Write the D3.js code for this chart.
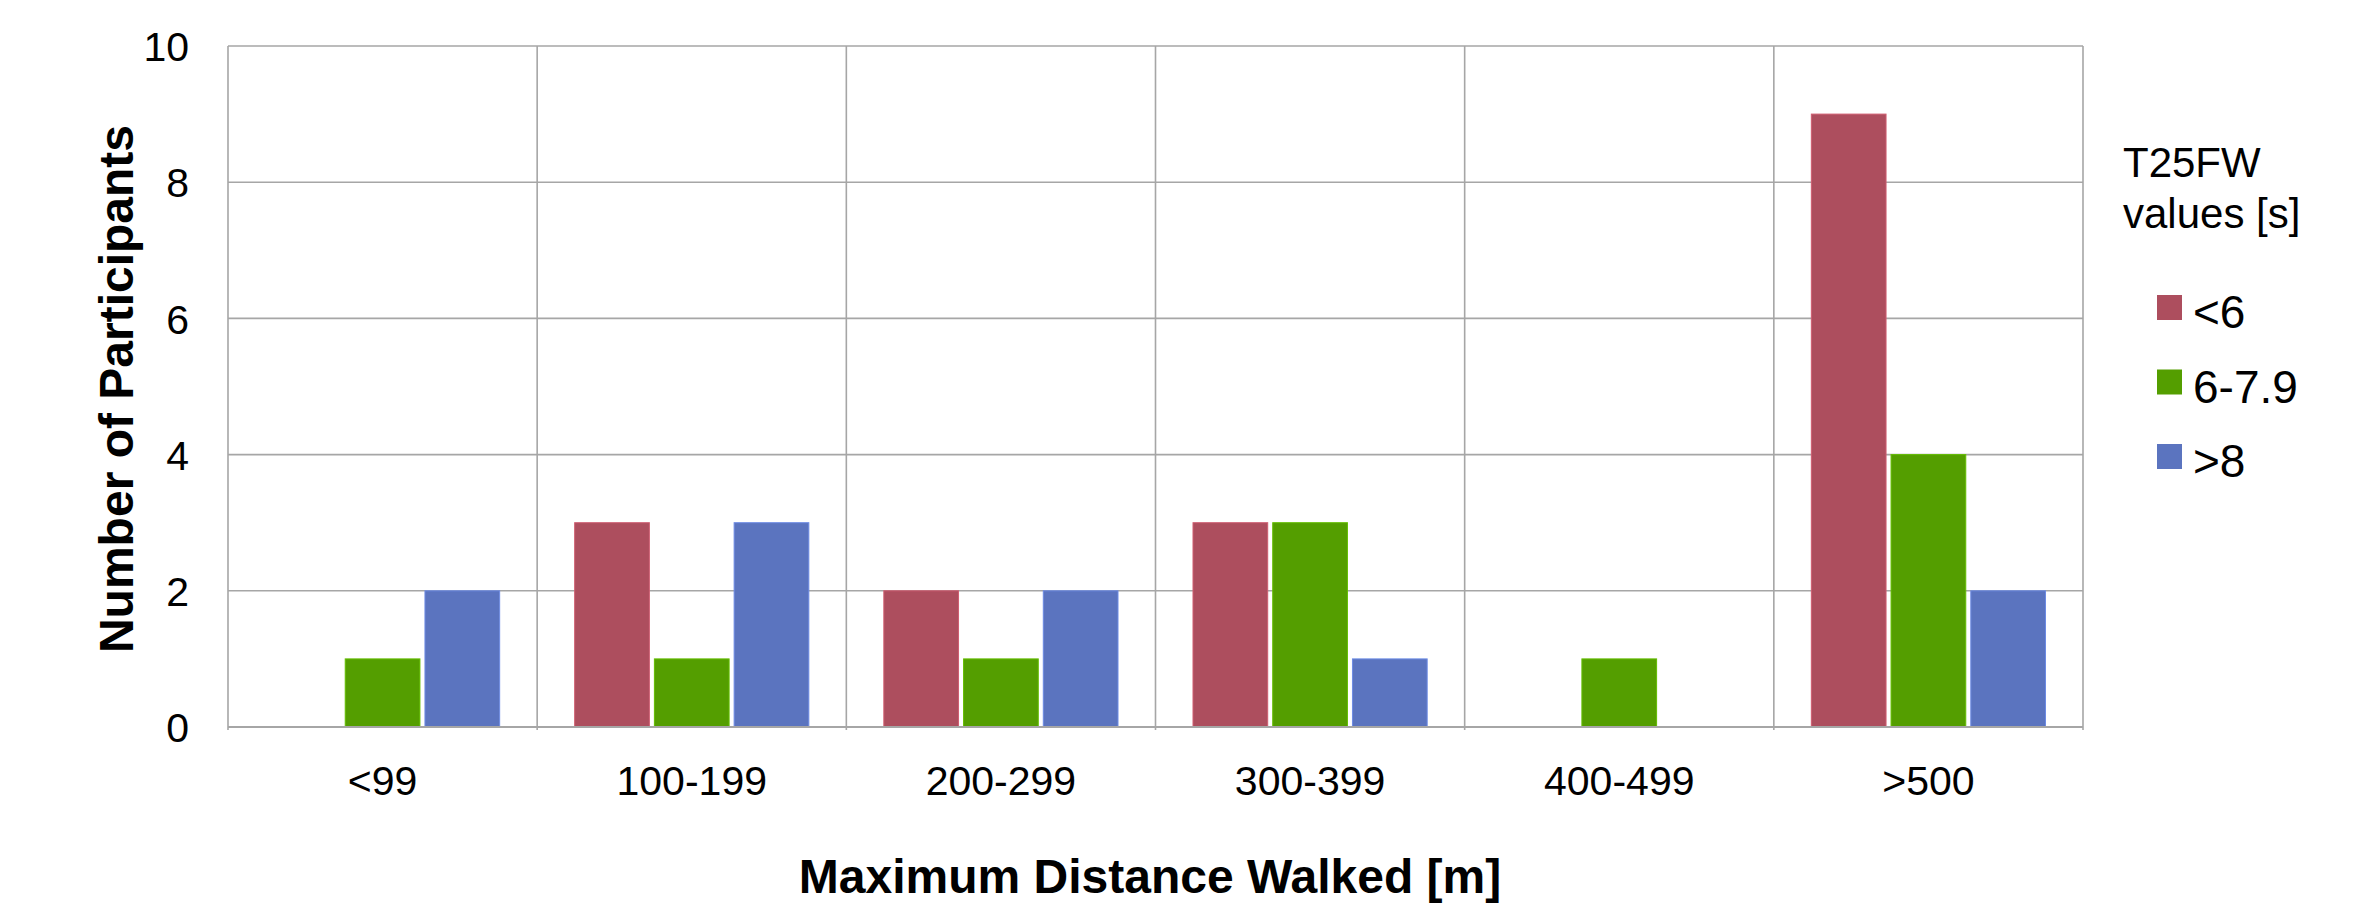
<!DOCTYPE html>
<html>
<head>
<meta charset="utf-8">
<script src="https://cdn.jsdelivr.net/npm/d3@7/dist/d3.min.js"></script>
<style>
  html, body { margin: 0; padding: 0; background: #fff; }
  text { font-family: "Liberation Sans", Arial, sans-serif; fill: #000; }
</style>
</head>
<body>
<svg id="chart" width="2365" height="903"></svg>
<script>
const categories = ["<99", "100-199", "200-299", "300-399", "400-499", ">500"];
const seriesNames = ["<6", "6-7.9", ">8"];
const seriesLt6 = [0, 3, 2, 3, 0, 9];
const series6to79 = [1, 1, 1, 3, 1, 4];
const seriesGt8 = [2, 3, 2, 1, 0, 2];
const colors = ["#AD4E5E", "#549E00", "#5B74BF"];
const yTicks = [0, 2, 4, 6, 8, 10];
const legendTitle = ["T25FW", "values [s]"];

const seriesValues = [seriesLt6, series6to79, seriesGt8];
const data = categories.map((c, i) => ({
  cat: c,
  vals: seriesNames.map((s, j) => ({ key: s, value: seriesValues[j][i], color: colors[j] }))
}));

const svg = d3.select("#chart");
const L = 228, R = 2083, T = 46, B = 727;

const x0 = d3.scaleBand().domain(categories).range([L, R]).padding(0);
const innerPad = 37.5;
const x1 = d3.scaleBand().domain(seriesNames)
  .range([innerPad, x0.bandwidth() - innerPad]).paddingInner(0.063).paddingOuter(0);
const y = d3.scaleLinear().domain([0, 10]).range([B, T]);

// horizontal gridlines
const grid = svg.append("g");
grid.selectAll("line.h").data(yTicks).join("line")
  .attr("x1", L).attr("x2", R)
  .attr("y1", d => y(d)).attr("y2", d => y(d))
  .attr("stroke", "#A6A6A6").attr("stroke-width", 1.6);
// vertical gridlines at category boundaries
const bounds = categories.map(c => x0(c)).concat([R]);
grid.selectAll("line.v").data(bounds).join("line")
  .attr("x1", d => d).attr("x2", d => d)
  .attr("y1", T).attr("y2", B + 3)
  .attr("stroke", "#A6A6A6").attr("stroke-width", 1.6);

// bars
const groups = svg.append("g").selectAll("g").data(data).join("g")
  .attr("transform", d => `translate(${x0(d.cat)},0)`);
groups.selectAll("rect").data(d => d.vals.filter(v => v.value > 0)).join("rect")
  .attr("x", d => x1(d.key))
  .attr("width", x1.bandwidth())
  .attr("y", d => y(d.value))
  .attr("height", d => y(0) - y(d.value))
  .attr("fill", d => d.color)
  .attr("stroke", d => d3.color(d.color).brighter(0.5))
  .attr("stroke-width", 1);

// axis line on bottom drawn again on top
svg.append("line").attr("x1", L).attr("x2", R).attr("y1", B).attr("y2", B)
  .attr("stroke", "#A6A6A6").attr("stroke-width", 2);

// y axis labels
const yAxis = d3.axisLeft(y).tickValues(yTicks).tickSize(0).tickPadding(0).tickFormat(d3.format("d"));
const gy = svg.append("g").attr("transform", `translate(189,0)`).call(yAxis);
gy.select(".domain").remove();
gy.selectAll("text").attr("font-size", 41).attr("font-family", "Liberation Sans, Arial, sans-serif")
  .attr("dy", "0.36em").attr("fill", "#000");

// x axis labels
const xAxis = d3.axisBottom(x0).tickSize(0).tickPadding(0);
const gx = svg.append("g").attr("transform", `translate(0,795)`).call(xAxis);
gx.select(".domain").remove();
gx.selectAll("text").attr("font-size", 41).attr("font-family", "Liberation Sans, Arial, sans-serif")
  .attr("dy", 0).attr("y", 0).attr("fill", "#000");

// axis titles
svg.append("text").attr("x", 1150).attr("y", 893).attr("text-anchor", "middle")
  .attr("font-size", 48).attr("font-weight", "bold")
  .text("Maximum Distance Walked [m]");
svg.append("text").attr("transform", "translate(133,389) rotate(-90)").attr("text-anchor", "middle")
  .attr("font-size", 48).attr("font-weight", "bold")
  .text("Number of Participants");

// legend
const lg = svg.append("g");
lg.selectAll("text.title").data(legendTitle).join("text")
  .attr("x", 2123).attr("y", (d, i) => 177 + i * 51)
  .attr("font-size", 42).text(d => d);
const items = lg.selectAll("g.item").data(seriesNames).join("g")
  .attr("transform", (d, i) => `translate(2157,${295 + i * 74.5})`);
items.append("rect").attr("width", 25).attr("height", 25).attr("fill", (d, i) => colors[i]);
items.append("text").attr("x", 36).attr("y", 33).attr("font-size", 46).text(d => d);
</script>
</body>
</html>
